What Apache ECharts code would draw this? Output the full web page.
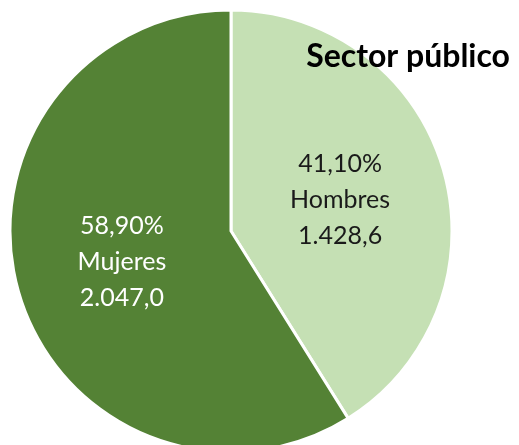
<!DOCTYPE html>
<html>
<head>
<meta charset="utf-8">
<script src="https://cdn.jsdelivr.net/npm/echarts@6/dist/echarts.min.js"></script>
<style>
html,body{margin:0;padding:0;background:#fff;}
#chart{width:519px;height:445px;}
</style>
</head>
<body>
<div id="chart"></div>
<script>
const categories = ["Hombres", "Mujeres"];
const values = [1428.6, 2047.0];
const percentLabels = ["41,10%", "58,90%"];
const valueLabels = ["1.428,6", "2.047,0"];
const colors = ["#c5e0b4", "#548235"];
const labelColors = ["#1a1a1a", "#ffffff"];
const titleText = "Sector público";

const chart = echarts.init(document.getElementById('chart'));
chart.setOption({
  animation: false,
  title: {
    text: titleText,
    right: 4,
    top: 36,
    textStyle: {fontFamily: 'Lato', fontWeight: 'bold', fontSize: 32, color: '#000'}
  },
  series: [{
    type: 'pie',
    center: [231, 231],
    radius: [0, 221],
    startAngle: 90,
    clockwise: true,
    itemStyle: {borderColor: '#fff', borderWidth: 3},
    label: {
      position: 'inside',
      fontFamily: 'Lato',
      fontSize: 25,
      lineHeight: 36,
      formatter: p => percentLabels[p.dataIndex] + '\n' + categories[p.dataIndex] + '\n' + valueLabels[p.dataIndex]
    },
    labelLine: {show: false},
    data: categories.map((c, i) => ({
      name: c,
      value: values[i],
      itemStyle: {color: colors[i]},
      label: {color: labelColors[i]}
    }))
  }]
});
</script>
</body>
</html>
